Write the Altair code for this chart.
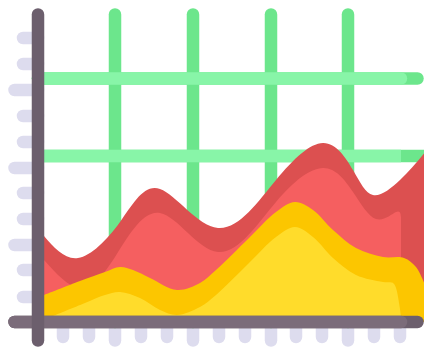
import altair as alt
import pandas as pd

W, H = 416, 339
BASE = 322
STROKE = 12.5

outer_x = [44, 78, 120, 160, 218, 276, 323, 353, 373, 400, 426]
outer_y = [236, 258, 222, 189, 228, 180, 143, 170, 195, 180, 151]
inner_x = [44, 80, 115, 160, 218, 276, 323, 353, 376, 396, 401]
inner_y = [260, 288, 257, 213, 252, 202, 168, 192, 219, 212, 217]
amber_x = [44, 80, 105, 120, 133, 150, 177, 200, 216, 249, 276, 295, 313, 333, 356, 383, 404, 416, 425]
amber_y = [295, 281, 272, 267, 270, 278, 290, 283, 270, 238, 212, 202, 210, 230, 248, 257, 258, 267, 285]
lemon_x = [53, 85, 105, 120, 140, 160, 177, 200, 216, 249, 276, 295, 313, 333, 356, 383, 393, 396, 401]
lemon_y = [316, 303, 295, 292, 298, 310, 315, 307, 295, 263, 237, 227, 237, 258, 275, 282, 283, 288, 316]

tick_short_y = [38, 64, 116, 142, 193, 219, 270, 297]
tick_long_y = [90, 168, 245]
tick_short_x = [63, 89, 141, 167, 219, 245, 296, 322, 374, 400]
tick_long_x = [115, 193, 271, 348]
grid_v_x = [115, 193, 271, 348]

x_scale = alt.Scale(domain=[8, 8 + W], range=[0, W])
y_scale = alt.Scale(domain=[8, 8 + H], range=[0, H])
X = alt.X("x:Q", scale=x_scale, axis=None)
Y = alt.Y("y:Q", scale=y_scale, axis=None)


def area(xs, ys, color, interp="catmull-rom"):
    df = pd.DataFrame({"x": xs, "y": ys, "b": [BASE] * len(xs)})
    return alt.Chart(df).mark_area(interpolate=interp, color=color).encode(
        x=X, y=Y, y2="b:Q"
    )


def hrules(rows, color, cap="round"):
    df = pd.DataFrame(rows, columns=["x", "x2", "y"])
    return alt.Chart(df).mark_rule(color=color, strokeWidth=STROKE, strokeCap=cap).encode(
        x=X, x2="x2:Q", y=Y
    )


def vrules(rows, color, cap="round"):
    df = pd.DataFrame(rows, columns=["x", "y", "y2"])
    return alt.Chart(df).mark_rule(color=color, strokeWidth=STROKE, strokeCap=cap).encode(
        x=X, y=Y, y2="y2:Q"
    )


LAV = "#dddcee"
GREEN = "#6ce68c"
MINT = "#88f5a8"
DARK = "#6c5f6d"
MAUVE = "#7b6c7a"

layers = [
    hrules([[23, 38, v] for v in tick_short_y] + [[14.5, 38, v] for v in tick_long_y], LAV),
    vrules([[v, 322, 337] for v in tick_short_x] + [[v, 322, 340.5] for v in tick_long_x], LAV),
    vrules([[v, 14.5, 322] for v in grid_v_x], GREEN),
    hrules([[38, 417.5, 78.5]], GREEN),
    hrules([[38, 424, 156]], GREEN, "butt"),
    hrules([[38, 401, 78.5]], MINT),
    hrules([[38, 401, 156]], MINT, "butt"),
    area(outer_x, outer_y, "#dc5050", "natural"),
    area(inner_x, inner_y, "#f55f60", "natural"),
    area(amber_x, amber_y, "#fcc600"),
    area(lemon_x, lemon_y, "#ffdc2b"),
    hrules([[14.5, 417.5, BASE]], DARK),
    hrules([[14.5, 401, BASE]], MAUVE),
    vrules([[38, 14.5, 340.5]], DARK),
]

chart = (
    alt.layer(*layers)
    .properties(width=W, height=H, padding=0, autosize=alt.AutoSizeParams(type="none"))
    .configure_view(stroke=None)
)
chart.save("out.html", embed_options={"renderer": "svg", "actions": False})
